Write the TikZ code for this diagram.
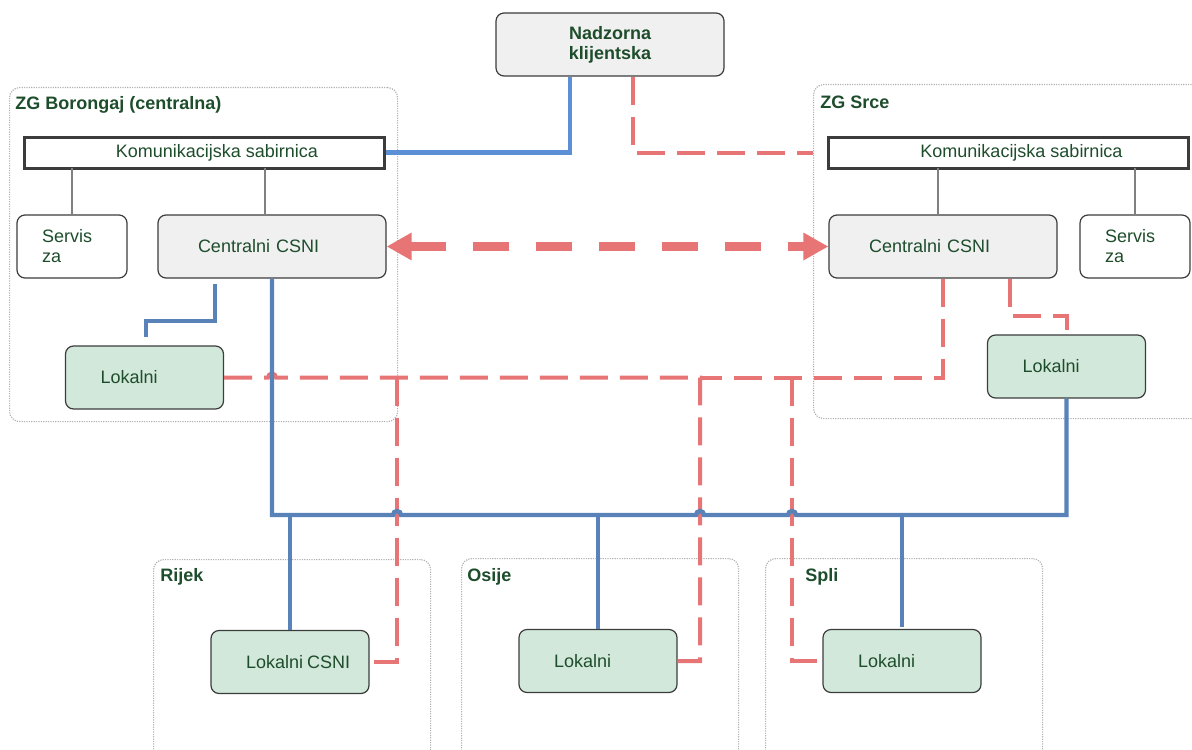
\documentclass[tikz,border=0pt]{standalone}
\usepackage{fontspec}
\setmainfont{Liberation Sans}
\usetikzlibrary{arrows.meta,positioning}
\definecolor{txtgreen}{RGB}{30,77,44}
\definecolor{lokfill}{RGB}{210,232,218}
\definecolor{cenfill}{RGB}{240,240,240}
\definecolor{boxedge}{RGB}{60,60,60}
\definecolor{netblue}{RGB}{88,130,184}
\definecolor{nadblue}{RGB}{91,143,214}
\definecolor{linkred}{RGB}{232,117,117}

\begin{document}
\begin{tikzpicture}[x=0.5pt,y=-0.5pt,font=\fontsize{9}{10}\selectfont,text=txtgreen]
% Styles for sites, boxes and links
\tikzset{
  grp/.style={draw=gray!60, line width=0.6pt, dash pattern=on 0.6pt off 0.6pt,
    rounded corners=5pt, anchor=north west, minimum height=167pt},
  grplabel/.style={anchor=west, inner sep=0pt, font=\fontsize{9}{10}\selectfont\bfseries},
  bus/.style={draw=boxedge, line width=1.5pt, fill=white, minimum width=180pt, minimum height=15.5pt},
  box/.style={draw=boxedge, line width=0.6pt, rounded corners=4pt, minimum height=31.5pt, align=left},
  cen/.style={box, fill=cenfill, inner xsep=20pt, text width=74pt},
  serv/.style={box, fill=white, inner xsep=12.5pt, text width=30pt},
  lok/.style={box, fill=lokfill, inner xsep=17.5pt, text width=44pt},
  drop/.style={draw=gray, line width=1.4pt},
  blueln/.style={draw=netblue, line width=2.2pt},
  nadln/.style={draw=nadblue, line width=2.2pt},
  redln/.style={draw=linkred, line width=2pt, dash pattern=on 14pt off 6pt},
  biglink/.style={draw=linkred, line width=4.5pt, dash pattern=on 18pt off 13.5pt,
    {Triangle[length=12.5pt,width=13pt]}-{Triangle[length=12.5pt,width=13pt]}},
}
\clip (0,0) rectangle (1192,749);

% Sites
\node[grp, minimum width=194pt] (gB) at (9,87) {};
\node[grp, minimum width=200pt] (gS) at (813,84) {};
\node[grp, minimum width=138.5pt, minimum height=110pt] (gRi) at (153,559) {};
\node[grp, minimum width=138.5pt, minimum height=110pt] (gOs) at (461,558) {};
\node[grp, minimum width=138.5pt, minimum height=110pt] (gSp) at (765,558) {};
\node[grplabel] at ([xshift=3pt,yshift=-9pt]gB.north west) {ZG Borongaj (centralna)};
\node[grplabel] at ([xshift=3.5pt,yshift=-9pt]gS.north west) {ZG Srce};
\node[grplabel] at ([xshift=3.5pt,yshift=-9pt]gRi.north west) {Rijek};
\node[grplabel] at ([xshift=3pt,yshift=-9.5pt]gOs.north west) {Osije};
\node[grplabel] at ([xshift=20pt,yshift=-9.5pt]gSp.north west) {Spli};

% Client
\node[box, fill=cenfill, align=center, minimum width=114pt, font=\fontsize{9}{10}\selectfont\bfseries] (nad) at (610,44.5) {Nadzorna\\klijentska};

% ZG Borongaj
\node[bus] (busL) at (204,152.5) {\hspace*{13pt}Komunikacijska sabirnica};
\node[serv] (servL) at (72,246.5) {Servis\\za};
\node[cen] (cenL) at (272,246.5) {Centralni CSNI};
\node[lok] (lokL) at (144.5,377.5) {Lokalni};

% ZG Srce
\node[bus] (busR) at (1008.5,152.5) {\hspace*{13pt}Komunikacijska sabirnica};
\node[cen] (cenR) at (943,246.5) {Centralni CSNI};
\node[serv] (servR) at (1135,246.5) {Servis\\za};
\node[lok] (lokR) at (1066.5,366.5) {Lokalni};

% Remote sites
\node[lok] (lokRi) at (290,662) {\rlap{Lokalni\hspace{2pt}CSNI}};
\node[lok] (lokOs) at (598,661) {Lokalni};
\node[lok] (lokSp) at (902,661) {Lokalni};

% bus drops
\draw[drop] (servL.north) -- +(0,-46);
\draw[drop] ([xshift=-3.5pt]cenL.north) -- +(0,-46);
\draw[drop] ([xshift=-2.5pt]cenR.north) -- +(0,-46);
\draw[drop] (servR.north) -- +(0,-46);

% crossing points and bends
\coordinate (hRi) at (397,515);
\coordinate (hOs) at (700,515);
\coordinate (hSp) at (792,515);
\coordinate (jL) at (cenL.south |- lokL.east);
\coordinate (kL) at (215,321);
\coordinate (kR) at (1040,316);

% backup links
\draw[redln] ([xshift=11.5pt]nad.south) |- (busR.west -| gS.west);
\draw[redln] (lokL.east) -- ([xshift=-2pt]jL) arc[start angle=180,end angle=0,radius=2pt]
  -| (hOs |- lokOs.east) -- (lokOs.east);
\draw[redln] (cenR.south) |- (hOs |- lokL.east);
\draw[redln] (hRi |- lokL.east) |- (lokRi.east);
\draw[redln] (hSp |- lokL.east) |- (lokSp.west);
\draw[redln] ([xshift=33.5pt]cenR.south) |- (kR) -| (lokR.north);

% primary network
\draw[nadln] ([xshift=-20pt]nad.south) |- (busL.east);
\draw[blueln] ([xshift=-28.5pt,yshift=-2.5pt]cenL.south) -- (kL) -| ([xshift=0.75pt,yshift=4pt]lokL.north);
\draw[blueln] (cenL.south) |- ([xshift=-2pt]hRi) arc[start angle=180,end angle=0,radius=2pt]
  -- ([xshift=-2pt]hOs) arc[start angle=180,end angle=0,radius=2pt]
  -- ([xshift=-2pt]hSp) arc[start angle=180,end angle=0,radius=2pt]
  -| (lokR.south);
\draw[blueln] (lokRi.north) -- (lokRi.north |- hRi);
\draw[blueln] (lokOs.north) -- (lokOs.north |- hOs);
\draw[blueln] ([yshift=1pt]lokSp.north) -- (lokSp.north |- hSp);

% link between the two centres
\draw[biglink] (cenL.east) -- (cenR.west);
\end{tikzpicture}
\end{document}
